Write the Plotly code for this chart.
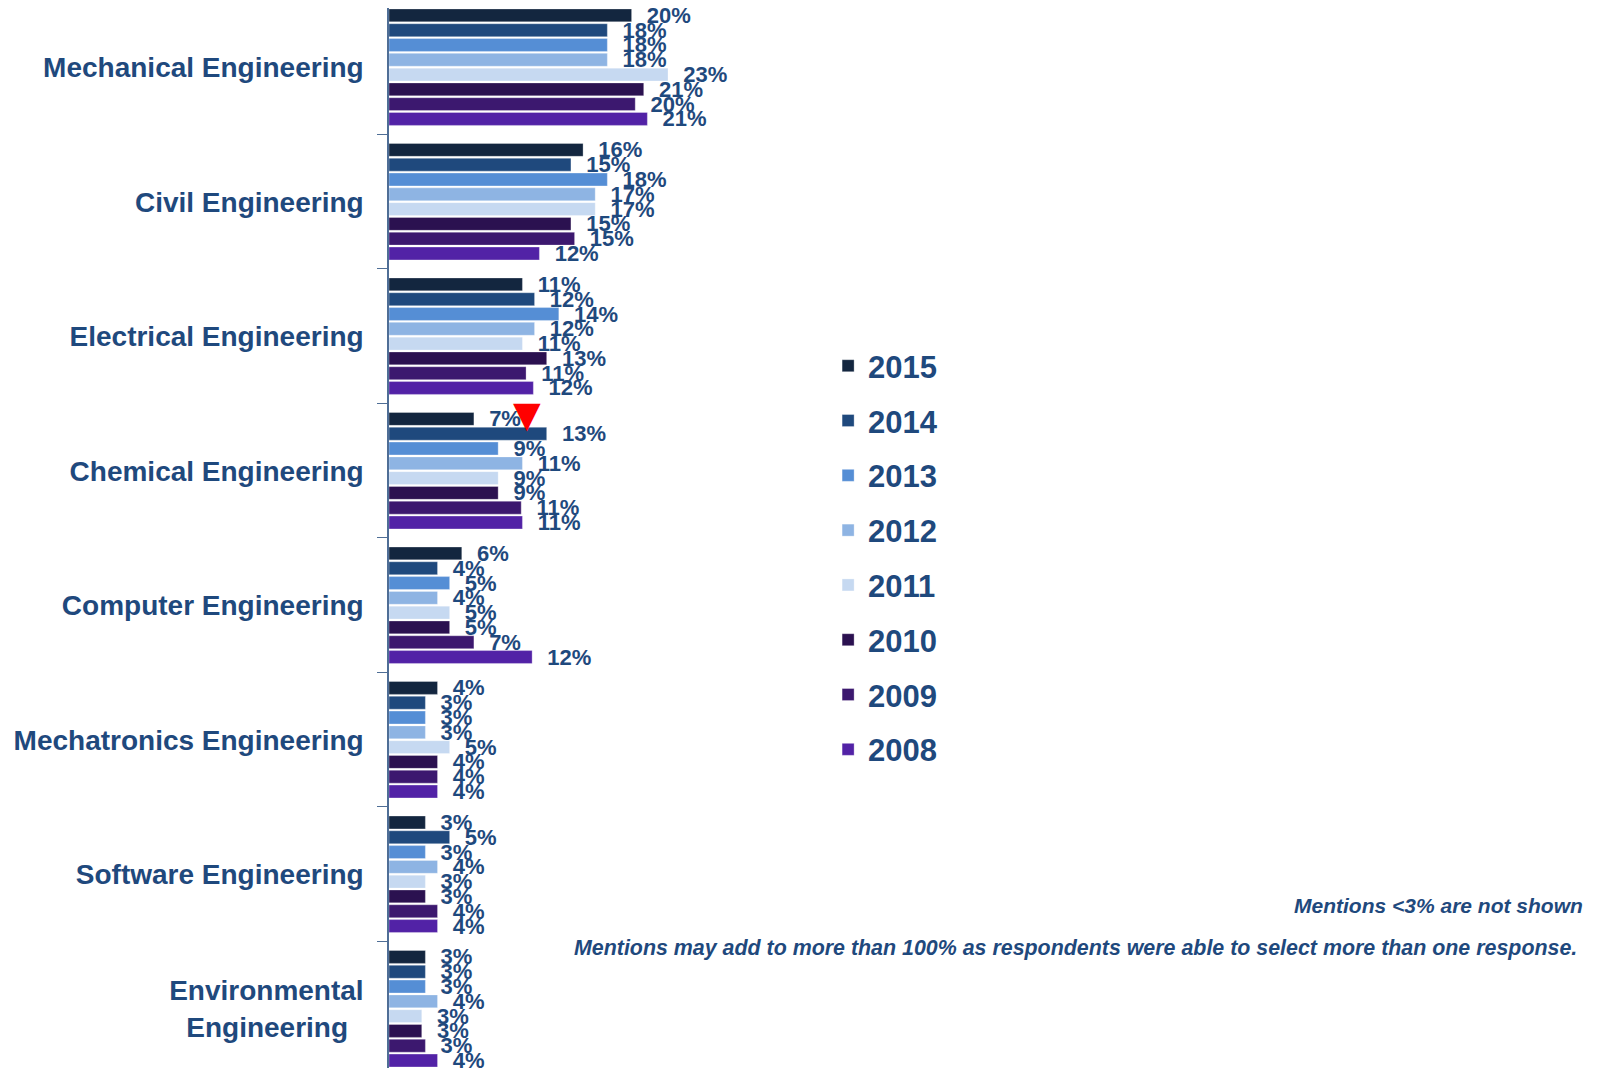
import plotly.graph_objects as go

# Share of mentions by engineering discipline, per survey year (%)
CATEGORIES = [
    "Mechanical Engineering",
    "Civil Engineering",
    "Electrical Engineering",
    "Chemical Engineering",
    "Computer Engineering",
    "Mechatronics Engineering",
    "Software Engineering",
    "Environmental Engineering",
]
TICK_TEXT = [
    "Mechanical Engineering",
    "Civil Engineering",
    "Electrical Engineering",
    "Chemical Engineering",
    "Computer Engineering",
    "Mechatronics Engineering",
    "Software Engineering",
    "Environmental<br>Engineering\u00a0\u00a0",
]
YEARS = ["2015", "2014", "2013", "2012", "2011", "2010", "2009", "2008"]

V2015 = [20, 16, 11, 7, 6, 4, 3, 3]
V2014 = [18, 15, 12, 13, 4, 3, 5, 3]
V2013 = [18, 18, 14, 9, 5, 3, 3, 3]
V2012 = [18, 17, 12, 11, 4, 3, 4, 4]
V2011 = [23, 17, 11, 9, 5, 5, 3, 2.7]
V2010 = [21, 15, 13, 9, 5, 4, 3, 2.7]
V2009 = [20.3, 15.3, 11.3, 10.9, 7, 4, 4, 3]
V2008 = [21.3, 12.4, 11.9, 11, 11.8, 4, 4, 4]
VALUES = [V2015, V2014, V2013, V2012, V2011, V2010, V2009, V2008]

COLORS = ["#13263f", "#1f497d", "#558ed5", "#8eb4e3", "#c6d9f1",
          "#2b1150", "#3c186f", "#5222a6"]

# flagged drop: Chemical Engineering 2015 vs 2014
FLAG_CATEGORY = "Chemical Engineering"
FLAG_VALUE = 11.4

TEXT_BLUE = "#1f497d"
FONT = "Liberation Sans, Arial, sans-serif"

fig = go.Figure()
for year, vals, color in zip(YEARS, VALUES, COLORS):
    fig.add_trace(go.Bar(
        y=CATEGORIES, x=vals, name=year, orientation="h",
        marker=dict(color=color, line=dict(color="rgba(255,255,255,0.6)", width=0.5)),
        texttemplate="\u00a0\u00a0%{x:.0f}%", textposition="outside",
        constraintext="none", cliponaxis=False,
        textfont=dict(family=FONT, size=22, color=TEXT_BLUE, weight="bold"),
        legendgroup=year, hoverinfo="x+name",
    ))

fig.add_annotation(
    x=FLAG_VALUE, y=FLAG_CATEGORY, text="\u25bc", showarrow=False,
    yshift=56, font=dict(family="DejaVu Sans", size=36, color="#ff0000"),
)

fig.add_annotation(
    x=0.986, y=0.147, xref="paper", yref="paper", xanchor="right",
    text="<b><i>Mentions &lt;3% are not shown</i></b>", showarrow=False,
    font=dict(family=FONT, size=21, color=TEXT_BLUE),
)
fig.add_annotation(
    x=0.981, y=0.107, xref="paper", yref="paper", xanchor="right",
    text="<b><i>Mentions may add to more than 100% as respondents were able to select more than one response.</i></b>",
    showarrow=False, font=dict(family=FONT, size=21.4, color=TEXT_BLUE),
)

fig.update_layout(
    width=1603, height=1068,
    margin=dict(l=381, r=9, t=0, b=0, autoexpand=False),
    plot_bgcolor="white", paper_bgcolor="white",
    barmode="group", bargap=0.12, bargroupgap=0.13,
    showlegend=True,
    legend=dict(
        xref="paper", yref="paper", x=0.362, y=0.690,
        xanchor="left", yanchor="top", tracegroupgap=11.5,
        font=dict(family=FONT, size=31, color=TEXT_BLUE, weight="bold"),
        bgcolor="rgba(0,0,0,0)",
    ),
    xaxis=dict(range=[0, 100], showgrid=False, zeroline=False,
               showticklabels=False, showline=False, fixedrange=True,
               automargin=False),
    yaxis=dict(
        autorange=False, range=[7.50, -0.44], categoryorder="array",
        categoryarray=CATEGORIES, tickmode="array", tickvals=CATEGORIES,
        ticktext=TICK_TEXT, tickson="boundaries", ticks="outside", ticklen=10,
        tickcolor="#4f6e96", showline=True, linecolor="#4f6e96", linewidth=1.5,
        showgrid=False, ticklabelstandoff=18, automargin=False,
        tickfont=dict(family=FONT, size=28, color=TEXT_BLUE, weight="bold"),
    ),
)

fig.write_html("out.html")
